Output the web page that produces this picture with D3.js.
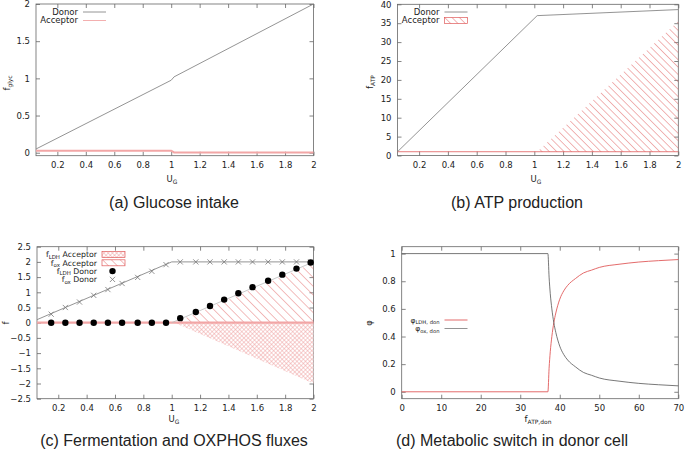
<!DOCTYPE html>
<html>
<head>
<meta charset="utf-8">
<script src="https://cdn.jsdelivr.net/npm/d3@7"></script>
<style>
  body { margin: 0; background: #fff; }
  svg text { font-family: "DejaVu Sans", sans-serif; fill: #222; }
  .caption { font-family: "Liberation Sans", Arial, sans-serif; font-size: 16px; }
</style>
</head>
<body>
<div id="chart"></div>
<script>
// ---- data ----
// (a) glucose intake
const glycX = [0.05, 1.0, 1.02, 2];
const glycDonor = [0.05, 0.975, 1.02, 2];
const glycAcceptor = [0.027, 0.027, 0.004, 0.004];

// (b) ATP production
const atpX = [0.05, 1.02, 2];
const atpDonor = [1, 37, 38.6];
const atpAcceptor = [1, 1, 35.5];

// (c) fluxes
const oxLineX = [0.05, 1.0, 2];
const oxLineY = [0.1, 2, 2];
const markX = [0.15, 0.25, 0.35, 0.45, 0.55, 0.65, 0.76, 0.86, 0.96, 1.06, 1.17, 1.27, 1.37, 1.47, 1.57, 1.68, 1.78, 1.88, 1.98];
const ldhDonor = [0, 0, 0, 0, 0, 0, 0, 0, 0, 0.15, 0.35, 0.55, 0.76, 0.97, 1.17, 1.38, 1.58, 1.78, 1.98];
const oxDonor = [0.28, 0.5, 0.68, 0.9, 1.09, 1.29, 1.49, 1.69, 1.91, 2, 2, 2, 2, 2, 2, 2, 2, 2, 2];
const accFluxX = [0.05, 1.02, 2];
const oxAcceptor = [0, 0, 1.96];
const ldhAcceptor = [0, 0, -2];

// (d) metabolic switch
const phiX = [0, 37, 37.3, 37.6, 38, 38.5, 39, 40, 41, 42, 44, 46, 48, 50, 55, 60, 65, 70];
const phiOx = [1, 1, 0.83, 0.71, 0.6, 0.5, 0.43, 0.33, 0.27, 0.23, 0.18, 0.14, 0.12, 0.1, 0.077, 0.061, 0.051, 0.043];
const phiLdh = [0, 0, 0.17, 0.29, 0.4, 0.5, 0.57, 0.67, 0.73, 0.77, 0.82, 0.86, 0.88, 0.9, 0.923, 0.939, 0.949, 0.957];

const ugTicks = [0.2, 0.4, 0.6, 0.8, 1, 1.2, 1.4, 1.6, 1.8, 2];

const W = 685, H = 455;
const grey = "#888", red = "#e05a5a", pink = "#f2a6a6";
const fs = 8.5;   // tick / axis label size
const lfs = 7.8;  // legend size

const svg = d3.select("#chart").append("svg")
    .attr("width", W)
    .attr("height", H);

// hatch patterns
const defs = svg.append("defs");
function hatch(id, gap, color, width) {
    const p = defs.append("pattern")
        .attr("id", id)
        .attr("patternUnits", "userSpaceOnUse")
        .attr("width", gap).attr("height", gap)
        .attr("patternTransform", "rotate(-45)");
    p.append("line")
        .attr("x1", 0).attr("y1", 0).attr("x2", 0).attr("y2", gap)
        .attr("stroke", color).attr("stroke-width", width);
}
hatch("hatchB", 5.2, red, 0.9);
hatch("hatchC", 6.2, red, 0.8);
const cross = defs.append("pattern")
    .attr("id", "cross")
    .attr("patternUnits", "userSpaceOnUse")
    .attr("width", 3).attr("height", 3)
    .attr("patternTransform", "rotate(45)");
cross.append("rect").attr("width", 3).attr("height", 3).attr("fill", "#fff");
cross.append("line").attr("x1", 0).attr("y1", 0).attr("x2", 0).attr("y2", 3)
    .attr("stroke", "#ee9a9a").attr("stroke-width", 0.9);
cross.append("line").attr("x1", 0).attr("y1", 0).attr("x2", 3).attr("y2", 0)
    .attr("stroke", "#ee9a9a").attr("stroke-width", 0.9);

// text with subscripts: parts = [[str, isSub], ...]
function richText(g, parts, size) {
    let shifted = 0;
    parts.forEach(([s, sub]) => {
        const target = sub ? size * 0.2 : 0;
        g.append("tspan")
            .attr("font-size", sub ? size * 0.7 : size)
            .attr("dy", target - shifted)
            .text(s);
        shifted = target;
    });
    return g;
}

// build one panel frame, returns scales and group
function panel(box, xDom, yDom, xTicks, yTicks) {
    const x = d3.scaleLinear().domain(xDom).range([box.l, box.r]);
    const y = d3.scaleLinear().domain(yDom).range([box.b, box.t]);
    const g = svg.append("g");
    const fmt = d3.format("~g");

    const ax = [
        [d3.axisBottom(x).tickValues(xTicks).tickFormat(fmt).tickPadding(6), `translate(0,${box.b})`],
        [d3.axisTop(x).tickValues(xTicks).tickFormat(""), `translate(0,${box.t})`],
        [d3.axisLeft(y).tickValues(yTicks).tickFormat(fmt).tickPadding(6), `translate(${box.l},0)`],
        [d3.axisRight(y).tickValues(yTicks).tickFormat(""), `translate(${box.r},0)`]
    ];
    ax.forEach(([a, tr]) => {
        const s = g.append("g").attr("transform", tr)
            .call(a.tickSizeInner(-4).tickSizeOuter(0));
        s.select(".domain").remove();
        s.selectAll("line").attr("stroke", "#666").attr("stroke-width", 0.8);
        s.selectAll("text").attr("font-size", fs).attr("fill", "#222")
            .attr("font-family", "DejaVu Sans, sans-serif");
    });
    g.append("rect")
        .attr("x", box.l).attr("y", box.t)
        .attr("width", box.r - box.l).attr("height", box.b - box.t)
        .attr("fill", "none").attr("stroke", "#666").attr("stroke-width", 0.8);
    return { x, y, g };
}

function line(p, xs, ys, color, width, curve) {
    const pts = xs.map((v, i) => [v, ys[i]]);
    p.g.append("path")
        .attr("d", d3.line().curve(curve || d3.curveLinear).x(d => p.x(d[0])).y(d => p.y(d[1]))(pts))
        .attr("fill", "none").attr("stroke", color).attr("stroke-width", width);
}

function fillArea(p, xs, y0, ys, fill) {
    const pts = xs.map((v, i) => [v, ys[i]]);
    p.g.append("path")
        .attr("d", d3.area().x(d => p.x(d[0])).y0(p.y(y0)).y1(d => p.y(d[1]))(pts))
        .attr("fill", fill).attr("stroke", "none");
}

function legendText(x, y, label, size) {
    const t = svg.append("text").attr("x", x).attr("y", y + 2.8).attr("text-anchor", "end")
        .attr("font-size", size);
    richText(t, label, size);
}

function legendLine(x, y, label, color, size) {
    legendText(x, y, label, size);
    svg.append("line").attr("x1", x + 5).attr("x2", x + 28).attr("y1", y).attr("y2", y)
        .attr("stroke", color).attr("stroke-width", 0.9);
}

function legendBox(x, y, label, fill, size) {
    legendText(x, y, label, size);
    svg.append("rect").attr("x", x + 5).attr("y", y - 3).attr("width", 23).attr("height", 6)
        .attr("fill", fill).attr("stroke", red).attr("stroke-width", 0.7);
}

function crossMark(sel, cx, cy) {
    const s = 2.6;
    sel.append("path")
        .attr("d", `M${cx - s},${cy - s}L${cx + s},${cy + s}M${cx - s},${cy + s}L${cx + s},${cy - s}`)
        .attr("stroke", "#777").attr("stroke-width", 0.8);
}

function rotLabel(x, y, parts, size) {
    const t = svg.append("text").attr("transform", `translate(${x},${y}) rotate(-90)`)
        .attr("text-anchor", "middle").attr("font-size", size);
    richText(t, parts, size);
}

function xLabel(x, y, parts, size) {
    const t = svg.append("text").attr("x", x).attr("y", y).attr("text-anchor", "middle")
        .attr("font-size", size);
    richText(t, parts, size);
}

function caption(x, y, s) {
    svg.append("text").attr("class", "caption").attr("x", x).attr("y", y)
        .attr("text-anchor", "middle").attr("font-size", 16).text(s);
}

// ---- (a) ----
const pa = panel({ l: 36, r: 313.5, t: 4, b: 155.7 }, [0.05, 2], [-0.04, 2], ugTicks, [0, 0.5, 1, 1.5, 2]);
line(pa, glycX, glycAcceptor, pink, 2);
line(pa, glycX, glycDonor, grey, 0.9);
legendLine(78, 12, [["Donor", false]], grey, fs);
legendLine(78, 20.5, [["Acceptor", false]], pink, fs);
rotLabel(10, 83, [["f", false], ["glyc", true]], fs);
xLabel(172, 182, [["U", false], ["G", true]], fs);
caption(174, 208, "(a) Glucose intake");

// ---- (b) ----
const pb = panel({ l: 397.5, r: 678.3, t: 4.3, b: 155.5 }, [0.05, 2], [0, 40], ugTicks, [0, 5, 10, 15, 20, 25, 30, 35, 40]);
fillArea(pb, atpX, 1, atpAcceptor, "url(#hatchB)");
line(pb, [atpX[0], atpX[atpX.length - 1]], [1, 1], red, 0.8);
line(pb, atpX, atpDonor, grey, 0.9);
legendLine(439.5, 12, [["Donor", false]], grey, fs);
legendBox(439.5, 20.5, [["Acceptor", false]], "url(#hatchB)", fs);
rotLabel(373, 82, [["f", false], ["ATP", true]], fs);
xLabel(536, 182, [["U", false], ["G", true]], fs);
caption(517, 208, "(b) ATP production");

// ---- (c) ----
const pc = panel({ l: 37, r: 313.5, t: 246.7, b: 398.7 }, [0.05, 2], [-2.5, 2.5], ugTicks,
    [-2.5, -2, -1.5, -1, -0.5, 0, 0.5, 1, 1.5, 2, 2.5]);
fillArea(pc, accFluxX, 0, ldhAcceptor, "url(#cross)");
fillArea(pc, accFluxX, 0, oxAcceptor, "url(#hatchC)");
line(pc, accFluxX, [0, 0, 0], pink, 2.2);
line(pc, oxLineX, oxLineY, grey, 0.9);
line(pc, [1.0, 2], [0, 2], "#bbb", 0.8);
markX.forEach((v, i) => crossMark(pc.g, pc.x(v), pc.y(oxDonor[i])));
pc.g.selectAll("circle.ldh").data(markX).join("circle")
    .attr("class", "ldh")
    .attr("cx", d => pc.x(d))
    .attr("cy", (d, i) => pc.y(ldhDonor[i]))
    .attr("r", 3.2).attr("fill", "#000");
legendBox(97, 254.5, [["f", false], ["LDH", true], [" Acceptor", false]], "url(#cross)", lfs);
legendBox(97, 262.8, [["f", false], ["ox", true], [" Acceptor", false]], "url(#hatchC)", lfs);
legendText(97, 271.1, [["f", false], ["LDH", true], [" Donor", false]], lfs);
svg.append("circle").attr("cx", 112.5).attr("cy", 271.1).attr("r", 3.2).attr("fill", "#000");
legendText(97, 279.4, [["f", false], ["ox", true], [" Donor", false]], lfs);
crossMark(svg, 112.5, 279.4);
rotLabel(9, 323, [["f", false]], fs);
xLabel(174, 422, [["U", false], ["G", true]], fs);
caption(174, 446, "(c) Fermentation and OXPHOS fluxes");

// ---- (d) ----
const pd = panel({ l: 401.7, r: 678.3, t: 246.7, b: 398.7 }, [0, 70], [-0.05, 1.05],
    [0, 10, 20, 30, 40, 50, 60, 70], [0, 0.2, 0.4, 0.6, 0.8, 1]);
line(pd, phiX, phiLdh, red, 0.9, d3.curveMonotoneX);
line(pd, phiX, phiOx, "#555", 0.8, d3.curveMonotoneX);
legendLine(439.5, 320, [["\u03c6", false], ["LDH, don", true]], red, 7.5);
legendLine(439.5, 328.5, [["\u03c6", false], ["ox, don", true]], grey, 7.5);
rotLabel(372, 323, [["\u03c6", false]], fs);
xLabel(538, 422, [["f", false], ["ATP,don", true]], fs);
caption(512, 446, "(d) Metabolic switch in donor cell");
</script>
</body>
</html>
